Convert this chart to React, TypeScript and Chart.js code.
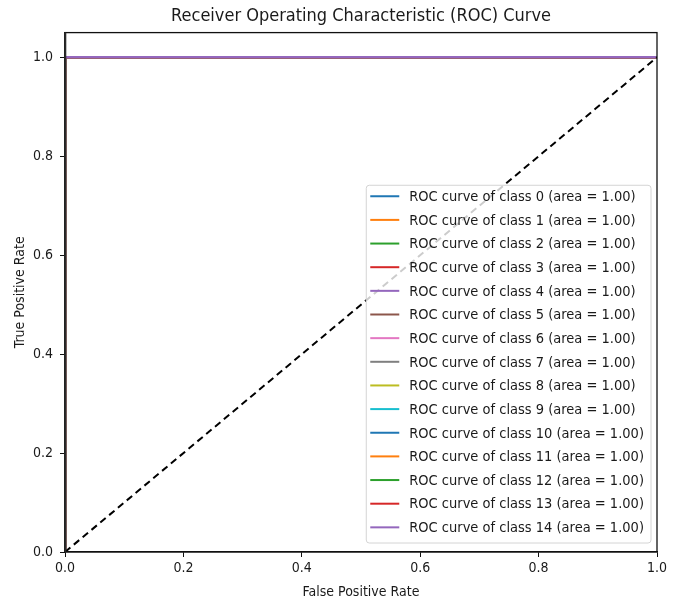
import React, { useEffect, useRef } from "react";
import { Chart, registerables } from "chart.js";

Chart.register(...registerables);

// ---- data ----
const classIds = ["0", "1", "2", "3", "4", "5", "6", "7", "8", "9", "10", "11", "12", "13", "14"];
const fprByClass = [
  [0, 0, 1], [0, 0, 1], [0, 0, 1], [0, 0, 1], [0, 0, 1],
  [0, 0, 1], [0, 0, 1], [0, 0, 1], [0, 0, 1], [0, 0, 1],
  [0, 0, 1], [0, 0, 1], [0, 0, 1], [0, 0, 1], [0, 0, 1],
];
const tprByClass = [
  [0, 1, 1], [0, 1, 1], [0, 1, 1], [0, 1, 1], [0, 1, 1],
  [0, 1, 1], [0, 1, 1], [0, 1, 1], [0, 1, 1], [0, 1, 1],
  [0, 1, 1], [0, 1, 1], [0, 1, 1], [0, 1, 1], [0, 1, 1],
];
const aucByClass = [1.0, 1.0, 1.0, 1.0, 1.0, 1.0, 1.0, 1.0, 1.0, 1.0, 1.0, 1.0, 1.0, 1.0, 1.0];
const chanceFpr = [0, 1];
const chanceTpr = [0, 1];
const xTickValues = [0.0, 0.2, 0.4, 0.6, 0.8, 1.0];
const yTickValues = [0.0, 0.2, 0.4, 0.6, 0.8, 1.0];

// ---- styles ----
const palette = [
  "#1f77b4", "#ff7f0e", "#2ca02c", "#d62728", "#9467bd",
  "#8c564b", "#e377c2", "#7f7f7f", "#bcbd22", "#17becf",
];
const FONT = "'DejaVu Sans Condensed', 'DejaVu Sans', sans-serif";
const TEXT = "#1a1a1a";

const framePlugin = {
  id: "frame",
  afterDatasetsDraw(chart: any) {
    const { ctx, chartArea: a } = chart;
    ctx.save();
    ctx.strokeStyle = "#111";
    ctx.lineWidth = 1.3;
    ctx.strokeRect(a.left, a.top, a.right - a.left, a.bottom - a.top);
    ctx.strokeStyle = "#2a2a2a";
    ctx.lineWidth = 2;
    ctx.beginPath();
    ctx.moveTo(a.left + 0.3, a.top);
    ctx.lineTo(a.left + 0.3, a.bottom);
    ctx.stroke();
    ctx.restore();
  },
};

const legendPlugin = {
  id: "innerLegend",
  afterDraw(chart: any) {
    const { ctx, chartArea: a } = chart;
    const items = chart.data.datasets.filter((d: any) => d.inLegend);
    ctx.save();
    ctx.font = `14.5px ${FONT}`;
    let maxW = 0;
    items.forEach((d: any) => {
      maxW = Math.max(maxW, ctx.measureText(d.label).width);
    });
    const padL = 4, handle = 29, gap = 10, padR = 7;
    const rowH = 23.65;
    const w = padL + handle + gap + maxW + padR;
    const h = rowH * items.length + 3;
    const right = a.right - 6;
    const bottom = a.bottom - 9;
    const left = right - w;
    const top = bottom - h;
    ctx.beginPath();
    const r = 3;
    ctx.moveTo(left + r, top);
    ctx.lineTo(right - r, top);
    ctx.arcTo(right, top, right, top + r, r);
    ctx.lineTo(right, bottom - r);
    ctx.arcTo(right, bottom, right - r, bottom, r);
    ctx.lineTo(left + r, bottom);
    ctx.arcTo(left, bottom, left, bottom - r, r);
    ctx.lineTo(left, top + r);
    ctx.arcTo(left, top, left + r, top, r);
    ctx.closePath();
    ctx.fillStyle = "rgba(255,255,255,0.8)";
    ctx.fill();
    ctx.strokeStyle = "#d4d4d4";
    ctx.lineWidth = 1;
    ctx.stroke();
    ctx.textBaseline = "middle";
    ctx.textAlign = "left";
    items.forEach((d: any, i: number) => {
      const cy = top + 11 + i * rowH;
      ctx.strokeStyle = d.borderColor;
      ctx.lineWidth = 2;
      ctx.beginPath();
      ctx.moveTo(left + padL, cy);
      ctx.lineTo(left + padL + handle, cy);
      ctx.stroke();
      ctx.fillStyle = TEXT;
      ctx.fillText(d.label, left + padL + handle + gap, cy + 1);
    });
    ctx.restore();
  },
};

export default function App() {
  const ref = useRef<HTMLCanvasElement | null>(null);

  useEffect(() => {
    document.body.style.margin = "0";
    if (!ref.current) return;
    const rocSets = classIds.map((id, i) => ({
      label: `ROC curve of class ${id} (area = ${aucByClass[i].toFixed(2)})`,
      data: fprByClass[i].map((x, j) => ({ x, y: tprByClass[i][j] })),
      borderColor: palette[i % palette.length],
      backgroundColor: palette[i % palette.length],
      borderWidth: 2.5,
      showLine: true,
      pointRadius: 0,
      clip: 0,
      order: classIds.length - i,
      inLegend: true,
    }));
    const chanceSet = {
      label: "chance",
      data: chanceFpr.map((x, j) => ({ x, y: chanceTpr[j] })),
      borderColor: "#000",
      backgroundColor: "#000",
      borderWidth: 2,
      borderDash: [7, 4.5],
      showLine: true,
      pointRadius: 0,
      order: 0,
      inLegend: false,
    };
    const tickFont = { family: FONT, size: 14 };
    const chart = new Chart(ref.current, {
      type: "scatter",
      data: { datasets: [...rocSets, chanceSet] as any },
      options: {
        animation: false,
        responsive: false,
        devicePixelRatio: 1,
        layout: { padding: { left: 0, right: 24, top: 0, bottom: 0 } },
        plugins: {
          legend: { display: false },
          tooltip: { enabled: false },
          title: {
            display: true,
            fullSize: false,
            text: "Receiver Operating Characteristic (ROC) Curve",
            color: TEXT,
            font: { family: FONT, size: 18, weight: "normal", lineHeight: 1.2 },
            padding: { top: 6, bottom: 5 },
          },
        },
        scales: {
          x: {
            type: "linear",
            min: 0,
            max: 1,
            afterBuildTicks: (s: any) => {
              s.ticks = xTickValues.map((v) => ({ value: v }));
            },
            afterFit: (s: any) => {
              s.height = 52;
            },
            ticks: {
              color: TEXT,
              font: tickFont,
              padding: 3,
              maxRotation: 0,
              callback: (v: any) => Number(v).toFixed(1),
            },
            grid: { drawOnChartArea: false, drawTicks: true, tickLength: 5, color: "#111" },
            border: { display: true, color: "#111", width: 1.3 },
            title: {
              display: true,
              text: "False Positive Rate",
              color: TEXT,
              font: { family: FONT, size: 14 },
              padding: { top: 0, bottom: 3 },
            },
          },
          y: {
            type: "linear",
            min: 0,
            max: 1.05,
            afterBuildTicks: (s: any) => {
              s.ticks = yTickValues.map((v) => ({ value: v }));
            },
            afterFit: (s: any) => {
              s.width = 65;
            },
            ticks: {
              color: TEXT,
              font: tickFont,
              padding: 7,
              callback: (v: any) => Number(v).toFixed(1),
            },
            grid: { drawOnChartArea: false, drawTicks: true, tickLength: 5, color: "#111" },
            border: { display: true, color: "#111", width: 1.3 },
            title: {
              display: true,
              text: "True Positive Rate",
              color: TEXT,
              font: { family: FONT, size: 14 },
              padding: { top: 12, bottom: 0 },
            },
          },
        },
      } as any,
      plugins: [framePlugin, legendPlugin],
    });
    return () => chart.destroy();
  }, []);

  return (
    <div style={{ width: 681, height: 604 }}>
      <canvas ref={ref} width={681} height={604} style={{ display: "block" }} />
    </div>
  );
}
